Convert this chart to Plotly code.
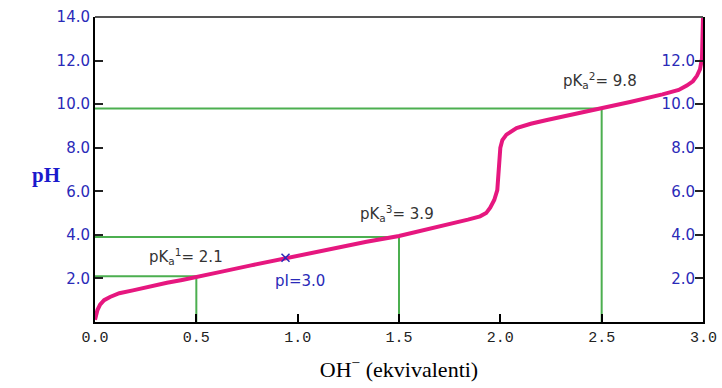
import plotly.graph_objects as go

# Titration curve
oh_equiv = [0.0, 0.005, 0.012, 0.025, 0.045, 0.074, 0.12, 0.187, 0.26, 0.355, 0.43, 0.5,
            0.62, 0.77, 0.93, 1.05, 1.18, 1.34, 1.5, 1.62, 1.75, 1.84, 1.9, 1.93, 1.95,
            1.97, 1.985, 1.992, 1.997, 2.0, 2.01, 2.03, 2.08, 2.15, 2.23, 2.36, 2.5,
            2.64, 2.8, 2.88, 2.92, 2.95, 2.97, 2.985, 2.995, 3.0]
ph_values = [0.1, 0.35, 0.55, 0.8, 1.0, 1.15, 1.32, 1.45, 1.62, 1.8, 1.93, 2.05,
             2.3, 2.6, 2.9, 3.15, 3.4, 3.68, 3.95, 4.2, 4.5, 4.7, 4.85, 5.0, 5.25,
             5.6, 6.05, 6.8, 7.5, 8.0, 8.35, 8.6, 8.9, 9.1, 9.27, 9.52, 9.8,
             10.1, 10.45, 10.65, 10.85, 11.05, 11.3, 11.6, 12.1, 14.0]

pka_x = [0.5, 1.5, 2.5]
pka_y = [2.1, 3.9, 9.8]
pka_labels = ["pK<sub>a</sub><sup>1</sup>= 2.1", "pK<sub>a</sub><sup>3</sup>= 3.9", "pK<sub>a</sub><sup>2</sup>= 9.8"]
pka_label_x = [0.45, 1.49, 2.49]
pka_label_y = [3.0, 5.0, 11.1]

pi_x = [0.94]
pi_y = [2.95]
pi_label = "pI=3.0"

x_ticks = [0.0, 0.5, 1.0, 1.5, 2.0, 2.5, 3.0]
y_ticks_left = [2.0, 4.0, 6.0, 8.0, 10.0, 12.0, 14.0]
y_ticks_right = [2.0, 4.0, 6.0, 8.0, 10.0, 12.0]

green = "#4caf50"
tick_blue = "#2a2ab8"
tick_font = dict(family="DejaVu Sans", size=15, color=tick_blue)
xtick_font = dict(family="Liberation Mono", size=15, color="#222222")

fig = go.Figure()

# green guide lines
for px, py in zip(pka_x, pka_y):
    fig.add_trace(go.Scatter(x=[0, px, px], y=[py, py, 0], mode="lines",
                             line=dict(color=green, width=2), hoverinfo="skip",
                             showlegend=False))

fig.add_trace(go.Scatter(x=oh_equiv, y=ph_values, mode="lines",
                         line=dict(color="#e6177f", width=4), showlegend=False))

fig.add_trace(go.Scatter(x=pi_x, y=pi_y, mode="markers",
                         marker=dict(symbol="x-thin", size=8, line=dict(color=tick_blue, width=1.5)),
                         showlegend=False))

# invisible trace for right axis
fig.add_trace(go.Scatter(x=[0], y=[0], yaxis="y2", mode="markers",
                         marker=dict(opacity=0), showlegend=False, hoverinfo="skip"))

for lx, ly, t in zip(pka_label_x, pka_label_y, pka_labels):
    fig.add_annotation(x=lx, y=ly, text=t, showarrow=False,
                       font=dict(family="DejaVu Sans", size=15, color="#333333"))
fig.add_annotation(x=1.01, y=1.9, text=pi_label, showarrow=False,
                   font=dict(family="DejaVu Sans", size=15, color=tick_blue))

fig.add_annotation(xref="paper", yref="paper", x=-0.107, y=0.482, text="<b>pH</b>",
                   showarrow=False,
                   font=dict(family="Liberation Serif", size=21, color="#1a1acc"))

# last x tick label (drawn as annotation so it is not hidden at the axis end)
fig.add_annotation(x=x_ticks[-1], y=0, yref="y", yshift=-16, text=f"{x_ticks[-1]:.1f}",
                   showarrow=False, font=xtick_font)

fig.add_shape(type="line", xref="paper", yref="paper", x0=0, x1=1, y0=1, y1=1,
              line=dict(color="#555555", width=2))

fig.update_layout(
    width=722, height=388,
    margin=dict(l=95, r=19, t=17, b=66, autoexpand=False),
    paper_bgcolor="white", plot_bgcolor="white",
    xaxis=dict(range=[0, 3], tickvals=x_ticks[:-1], ticktext=[f"{v:.1f}" for v in x_ticks[:-1]],
               ticks="inside", ticklen=8, tickcolor="black", tickwidth=1.5,
               showline=True, linecolor="black", linewidth=2, showgrid=False, zeroline=False,
               tickfont=xtick_font,
               title=dict(text="OH<sup>−</sup> (ekvivalenti)",
                          font=dict(family="Liberation Serif", size=22, color="black"),
                          standoff=16)),
    yaxis=dict(range=[0, 14], tickvals=y_ticks_left, ticktext=[f"{v:.1f}" for v in y_ticks_left],
               ticks="inside", ticklen=8, tickcolor="#222222", tickwidth=1.5,
               showline=True, linecolor="black", linewidth=2, showgrid=False, zeroline=False,
               tickfont=tick_font),
    yaxis2=dict(range=[0, 14], overlaying="y", side="right", tickvals=y_ticks_right,
                ticktext=[f"{v:.1f}" for v in y_ticks_right],
                ticks="inside", ticklen=8, tickcolor="#222222", tickwidth=1.5,
                ticklabelposition="inside",
                showline=True, linecolor="black", linewidth=2, showgrid=False, zeroline=False,
                tickfont=tick_font),
)

fig.write_html("out.html")
